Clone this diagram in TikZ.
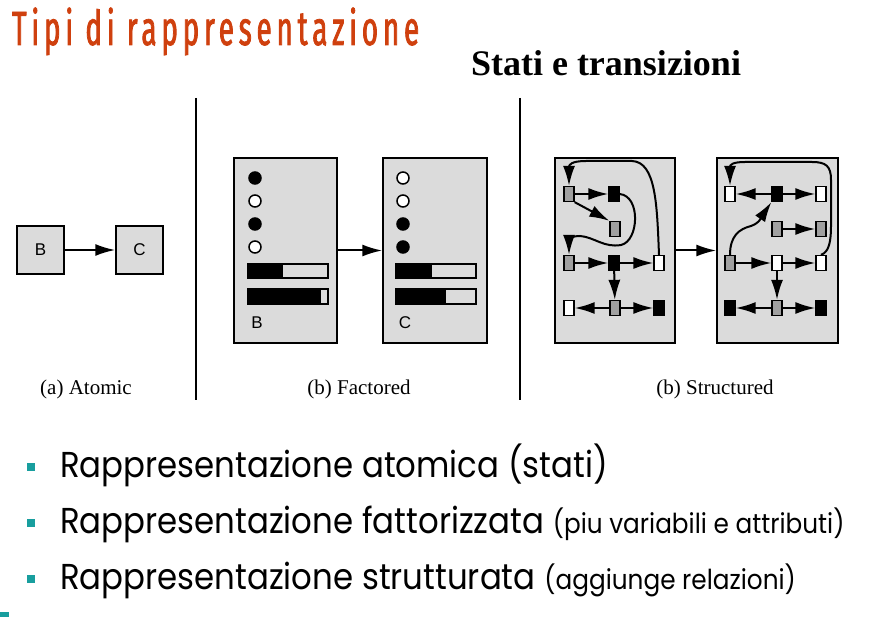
\documentclass[tikz,border=0pt]{standalone}
\usepackage{fontspec}
\setmainfont{Liberation Serif}
\newfontfamily\titlefont[FakeStretch=0.58,LetterSpace=10,FakeBold=1.6]{Fira Sans}
\newfontfamily\bulletfont[FakeStretch=0.9]{Poppins}
\newfontfamily\arialfont{Liberation Sans}
\newcommand\asidetext[1]{{\fontsize{27.5}{30}\selectfont #1}}
\usetikzlibrary{arrows.meta,calc}
\definecolor{titlered}{RGB}{207,64,14}
\definecolor{bullteal}{RGB}{24,158,158}
\definecolor{panelgray}{RGB}{219,219,219}
\definecolor{midgray}{RGB}{160,160,160}
\tikzset{
  arr/.style={line width=2pt,-{Latex[length=20pt,width=12pt]}},
  panel/.style={draw,fill=panelgray,line width=1.5pt,inner sep=0},
  cell/.style={draw,line width=1.3pt,minimum width=10pt,minimum height=15pt,inner sep=0},
  gcell/.style={cell,fill=midgray},
  kcell/.style={cell,fill=black},
  wcell/.style={cell,fill=white},
  dot/.style={draw,line width=1.5pt,circle,minimum size=12pt,inner sep=0},
  bar/.style={draw,line width=1.5pt},
  caption/.style={font=\fontsize{21}{24}\selectfont},
  letter/.style={font=\arialfont\fontsize{17}{19}\selectfont},
  bullet/.style={fill=bullteal,minimum size=8pt,inner sep=0},
  item/.style={anchor=base west,inner sep=0,font=\bulletfont\fontsize{36}{40}\selectfont},
}
\begin{document}
\begin{tikzpicture}[x=1pt,y=-1pt]
\useasboundingbox (0,0) rectangle (877,617);

% headings
\node[anchor=base west,inner sep=0,text=titlered,font=\titlefont\fontsize{48}{50}\selectfont] (title) at (12,45) {Tipi di rappresentazione};
\node[anchor=base,inner sep=0,font=\bfseries\fontsize{36}{38}\selectfont] (sub) at (606,76) {Stati e transizioni};

% separators
\draw[line width=1.6pt] (196,98) coordinate (s1a) -- (196,400) coordinate (s1b);
\draw[line width=1.6pt] (520,98) coordinate (s2a) -- (520,400) coordinate (s2b);

% (a) atomic
\node[panel,minimum width=47pt,minimum height=48pt,letter] (aB) at (40.5,250) {B};
\node[panel,minimum width=47pt,minimum height=48pt,letter] (aC) at (139.5,250) {C};
\draw[arr] (aB) -- (aC);

% (b) factored
\node[panel,minimum width=103pt,minimum height=185pt] (fB) at (285.5,250.5) {};
\node[panel,minimum width=104pt,minimum height=185pt] (fC) at (435,250.5) {};
\draw[arr] (fB.east) -- (fC.west);

\node[dot,fill=black] (b1) at (255,178) {};
\node[dot,fill=white] (b2) at (255,201) {};
\node[dot,fill=black] (b3) at (255,224) {};
\node[dot,fill=white] (b4) at (255,247) {};
\fill (248,264) rectangle (283,278);
\draw[bar] (248,264) rectangle (328,278);
\fill (248,289) rectangle (321,304);
\draw[bar] (248,289) rectangle (328,304);
\node[letter] (lB) at (257,323) {B};

\node[dot,fill=white] (c1) at (403,178) {};
\node[dot,fill=white] (c2) at (403,201) {};
\node[dot,fill=black] (c3) at (403,224) {};
\node[dot,fill=black] (c4) at (403,247) {};
\fill (396,264) rectangle (432,278);
\draw[bar] (396,264) rectangle (476,278);
\fill (396,289) rectangle (446,304);
\draw[bar] (396,289) rectangle (476,304);
\node[letter] (lC) at (405,323) {C};

% (c) structured
\node[panel,minimum width=120pt,minimum height=185pt] (sL) at (615,250.5) {};
\node[panel,minimum width=121pt,minimum height=185pt] (sR) at (777.5,250.5) {};
\draw[arr] (sL.east) -- (sR.west);

% left state
\node[gcell] (L1) at (569,194) {};
\node[kcell] (L2) at (614,194) {};
\node[gcell] (L3) at (615,229) {};
\node[gcell] (L4) at (569,263) {};
\node[kcell] (L5) at (614,263) {};
\node[wcell] (L6) at (659,263) {};
\node[wcell] (L7) at (569,308) {};
\node[gcell] (L8) at (615,308) {};
\node[kcell] (L9) at (659,308) {};
\draw[arr] (L1) -- (L2);
\draw[arr] (L1.south east) -- (L3.north west);
\draw[arr] (L4) -- (L5);
\draw[arr] (L5) -- (L6);
\draw[arr] (L5) -- (L8);
\draw[arr] (L8) -- (L7);
\draw[arr] (L8) -- (L9);
\draw[arr] (L2.east) .. controls (641,196) and (639,241) .. (621,245)
  .. controls (604,248) and (594,237) .. (580,236)
  .. controls (571,236) and (569,240) .. (L4.north);
\draw[arr] (L6.north) .. controls (657,205) and (656,162) .. (632,161)
  -- (586,161) .. controls (571,161) and (569,165) .. (L1.north);

% right state
\node[wcell] (R1) at (730,194) {};
\node[kcell] (R2) at (777,194) {};
\node[wcell] (R3) at (821,194) {};
\node[gcell] (R4) at (777,229) {};
\node[gcell] (R5) at (821,229) {};
\node[gcell] (R6) at (730,263) {};
\node[wcell] (R7) at (777,263) {};
\node[wcell] (R8) at (821,263) {};
\node[kcell] (R9) at (730,308) {};
\node[gcell] (R10) at (777,308) {};
\node[kcell] (R11) at (821,308) {};
\draw[arr] (R2) -- (R1);
\draw[arr] (R2) -- (R3);
\draw[arr] (R4) -- (R5);
\draw[arr] (R6) -- (R7);
\draw[arr] (R7) -- (R8);
\draw[arr] (R7) -- (R10);
\draw[arr] (R10) -- (R9);
\draw[arr] (R10) -- (R11);
\draw[arr] (R6.north) .. controls (730,236) and (739,229) .. (751,226)
  .. controls (760,223) and (762,216) .. (R2.south west);
\draw[arr] (R8.north) .. controls (829,252) and (831,242) .. (831,225)
  -- (831,180) .. controls (831,166) and (826,162) .. (812,162)
  -- (745,162) .. controls (732,162) and (730,165) .. (R1.north);

% captions
\node[caption] (capA) at (86,389) {(a) Atomic};
\node[caption] (capB) at (359,389) {(b) Factored};
\node[caption] (capC) at (715,389) {(b) Structured};

% bullet list
\node[bullet] (d1) at (31,467) {};
\node[bullet] (d2) at (31,523) {};
\node[bullet] (d3) at (31,579) {};
\node[item] (t1) at (60,477) {Rappresentazione atomica (stati)};
\node[item] (t2) at (60,533) {Rappresentazione fattorizzata \asidetext{(piu variabili e attributi)}};
\node[item] (t3) at (60,589) {Rappresentazione strutturata \asidetext{(aggiunge relazioni)}};
\fill[bullteal] (0,612) rectangle (9,617);
\end{tikzpicture}
\end{document}
